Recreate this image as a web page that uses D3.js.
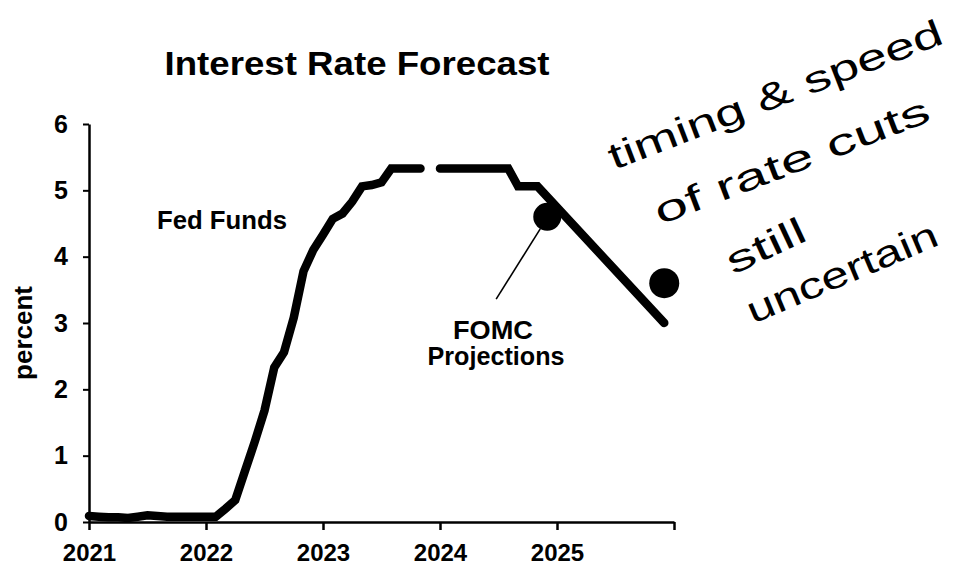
<!DOCTYPE html>
<html>
<head>
<meta charset="utf-8">
<script src="https://cdn.jsdelivr.net/npm/d3@7"></script>
<style>
  html, body { margin: 0; padding: 0; background: #fff; }
  svg { display: block; }
  text { font-family: "Liberation Sans", Arial, sans-serif; fill: #000; }
</style>
</head>
<body>
<svg id="chart" width="967" height="567"></svg>
<script>
// ---- Data ----
const fedMonths = [
  "2021-01","2021-02","2021-03","2021-04","2021-05","2021-06","2021-07","2021-08","2021-09","2021-10","2021-11","2021-12",
  "2022-01","2022-02","2022-03","2022-04","2022-05","2022-06","2022-07","2022-08","2022-09","2022-10","2022-11","2022-12",
  "2023-01","2023-02","2023-03","2023-04","2023-05","2023-06","2023-07","2023-08","2023-09","2023-10","2023-11","2023-12",
  "2024-01","2024-02","2024-03","2024-04","2024-05","2024-06","2024-07","2024-08","2024-09","2024-10","2024-11",
  "2025-12"
];
const fedValues = [
  0.09,0.08,0.07,0.07,0.06,0.08,0.10,0.09,0.08,0.08,0.08,0.08,
  0.08,0.08,0.20,0.33,0.77,1.21,1.68,2.33,2.56,3.08,3.78,4.10,
  4.33,4.57,4.65,4.83,5.06,5.08,5.12,5.33,5.33,5.33,5.33,null,
  5.33,5.33,5.33,5.33,5.33,5.33,5.33,5.33,5.06,5.06,5.06,
  3.00
];
const fomcMonths = ["2024-12","2025-12"];
const fomcValues = [4.6, 3.6];
const yearTicks = [2021, 2022, 2023, 2024, 2025, 2026];
const yearLabels = ["2021","2022","2023","2024","2025",""];
const percentTicks = [0, 1, 2, 3, 4, 5, 6];
const titleText = "Interest Rate Forecast";
const noteLines = ["timing & speed", "of rate cuts", "still", "uncertain"];

// ---- Helpers ----
const toYear = s => { const [y, m] = s.split("-").map(Number); return y + (m - 1) / 12; };

const svg = d3.select("#chart");
const x = d3.scaleLinear().domain([2021, 2026]).range([89, 674]);
const y = d3.scaleLinear().domain([0, 6]).range([522, 124]);

// Title
svg.append("text")
  .attr("x", 357).attr("y", 75)
  .attr("text-anchor", "middle")
  .attr("font-size", 33).attr("font-weight", "bold")
  .attr("textLength", 385).attr("lengthAdjust", "spacingAndGlyphs")
  .text(titleText);

// X axis
const xAxis = svg.append("g")
  .attr("transform", `translate(0,${y(0)})`)
  .call(d3.axisBottom(x).tickValues(yearTicks).tickFormat((d, i) => yearLabels[i]).tickSizeInner(8).tickSizeOuter(0).tickPadding(11));
xAxis.select(".domain").attr("stroke-width", 2.5);
xAxis.selectAll(".tick line").attr("stroke-width", 2.5);
xAxis.selectAll(".tick text").attr("font-size", 24).attr("font-weight", "bold")
  .attr("font-family", "Liberation Sans, Arial, sans-serif").attr("dy", "0.85em");

// Y axis
const yAxis = svg.append("g")
  .attr("transform", `translate(${x(2021)},0)`)
  .call(d3.axisLeft(y).tickValues(percentTicks).tickFormat(d3.format("d")).tickSizeInner(6).tickSizeOuter(0).tickPadding(15));
yAxis.select(".domain").attr("stroke-width", 2.5);
yAxis.selectAll(".tick line").attr("stroke-width", 2);
yAxis.selectAll(".tick text").attr("font-size", 25).attr("font-weight", "bold")
  .attr("font-family", "Liberation Sans, Arial, sans-serif");

// Y label
svg.append("text")
  .attr("transform", "translate(32,333) rotate(-90)")
  .attr("text-anchor", "middle")
  .attr("font-size", 26).attr("font-weight", "bold")
  .text("percent");

// Fed funds line
const fedData = fedMonths.map((m, i) => ({ t: toYear(m), v: fedValues[i] }));
const line = d3.line()
  .defined(d => d.v !== null)
  .x(d => x(d.t)).y(d => y(d.v));
svg.append("path")
  .datum(fedData)
  .attr("d", line)
  .attr("fill", "none").attr("stroke", "#000")
  .attr("stroke-width", 8.5).attr("stroke-linecap", "round").attr("stroke-linejoin", "miter");

// FOMC dots
const fomcData = fomcMonths.map((m, i) => ({ t: toYear(m), v: fomcValues[i] }));
svg.selectAll("circle.fomc")
  .data(fomcData).enter().append("circle")
  .attr("class", "fomc")
  .attr("cx", d => x(d.t)).attr("cy", d => y(d.v))
  .attr("r", (d, i) => i === 0 ? 14 : 15)
  .attr("fill", "#000");

// Leader line from first dot to label
const d0 = fomcData[0];
svg.append("line")
  .attr("x1", x(d0.t) - 7).attr("y1", y(d0.v) + 12)
  .attr("x2", x(2024.48)).attr("y2", y(3.36))
  .attr("stroke", "#000").attr("stroke-width", 1.6);

// Labels
svg.append("text").attr("x", 157).attr("y", 229)
  .attr("font-size", 25).attr("font-weight", "bold")
  .attr("textLength", 130).attr("lengthAdjust", "spacingAndGlyphs")
  .text("Fed Funds");
svg.append("text").attr("x", 493).attr("y", 339)
  .attr("text-anchor", "middle").attr("font-size", 25).attr("font-weight", "bold")
  .attr("textLength", 80).attr("lengthAdjust", "spacingAndGlyphs")
  .text("FOMC");
svg.append("text").attr("x", 496).attr("y", 365)
  .attr("text-anchor", "middle").attr("font-size", 25).attr("font-weight", "bold")
  .attr("textLength", 137).attr("lengthAdjust", "spacingAndGlyphs")
  .text("Projections");

// Handwritten note
const notePos = [
  { x: 614, y: 170, a: -21, len: 355 },
  { x: 660, y: 225, a: -21, len: 292 },
  { x: 733, y: 275, a: -25, len: 84 },
  { x: 753, y: 324, a: -23, len: 204 }
];
noteLines.forEach((t, i) => {
  const p = notePos[i];
  svg.append("text")
    .attr("transform", `translate(${p.x},${p.y}) rotate(${p.a})`)
    .attr("font-family", "DejaVu Sans, sans-serif")
    .attr("font-size", 37)
    .attr("textLength", p.len).attr("lengthAdjust", "spacingAndGlyphs")
    .text(t);
});
</script>
</body>
</html>
